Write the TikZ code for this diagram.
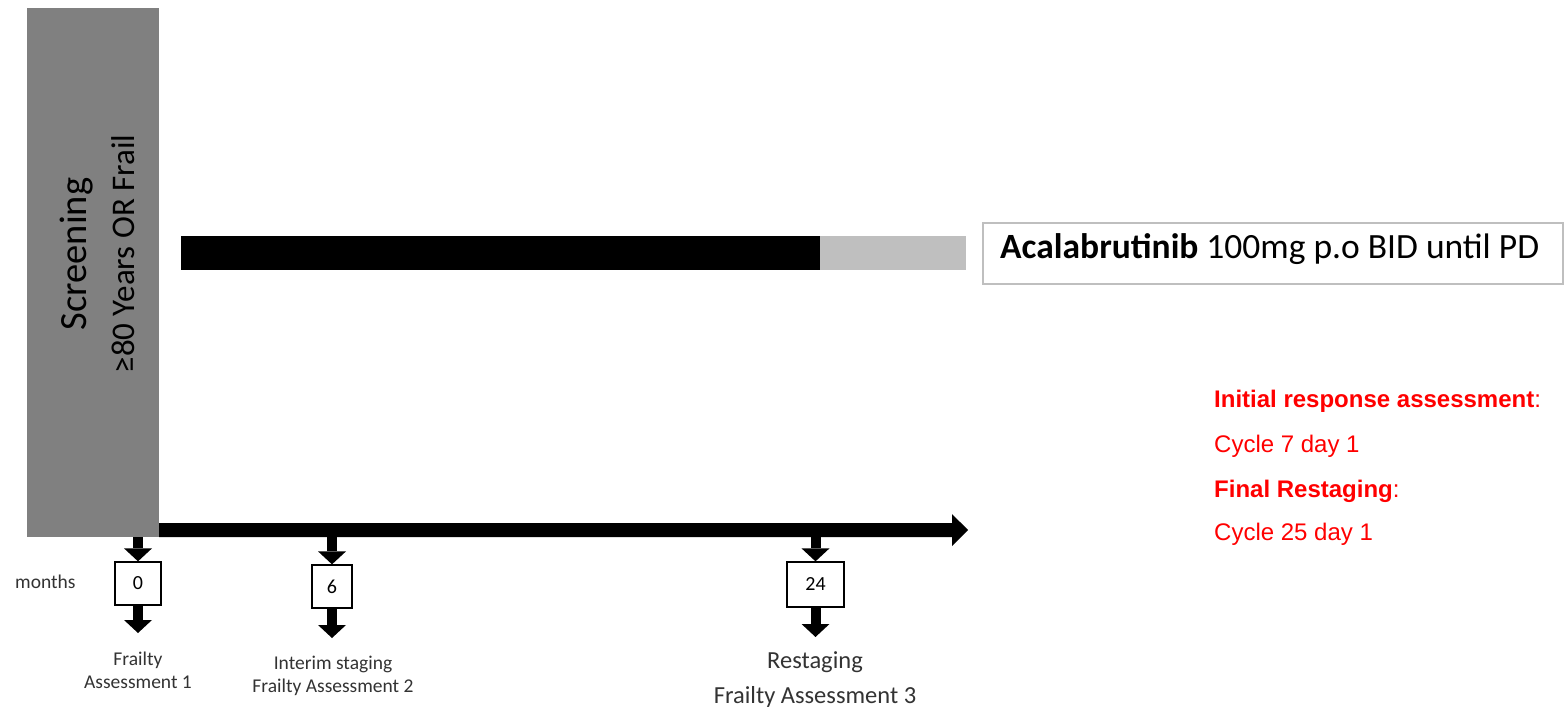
\documentclass[tikz,border=0pt]{standalone}
\usepackage{fontspec}
\setmainfont{Carlito}
\newfontfamily\arialfont{Liberation Sans}
\usetikzlibrary{arrows.meta}

\begin{document}
\begin{tikzpicture}[x=1pt, y=-1pt,
    screenbox/.style={fill=black!50, minimum width=132pt, minimum height=529pt, inner sep=0pt},
    monthbox/.style={draw, line width=1.3pt, inner sep=0pt, font=\fontsize{20}{22}\selectfont},
    downarrow/.style={line width=10pt, -{Triangle[width=28pt, length=13pt, line width=0pt]}},
    timeline/.style={line width=14pt, -{Triangle[width=32pt, length=16pt, line width=0pt]}},
    steplabel/.style={align=center, inner sep=0pt, text=black!80, font=\fontsize{19.5}{23}\selectfont},
    redline/.style={anchor=base west, inner sep=0pt, text=red, font=\arialfont\fontsize{24}{28}\selectfont}]
  \useasboundingbox (0,0) rectangle (1564,707);
  \fill[white] (0,0) rectangle (1564,707);

  % screening
  \node[screenbox] (screen) at (93,272.5) {};
  \node[rotate=90, align=center, inner sep=0pt, font=\fontsize{33}{40}\selectfont] (screentext) at (97,254)
    {{\fontsize{38.5}{40}\selectfont Screening}\\[8pt]≥80 Years OR Frail};

  % treatment
  \fill[black] (181,236) rectangle (820,270);
  \fill[black!25] (820,236) rectangle (966,270);
  \node[draw=black!25, line width=1.3pt, minimum width=580pt, minimum height=61pt, inner sep=0pt] (drug) at (1273,253.5) {};
  \node[anchor=base west, inner sep=0pt, font=\fontsize{35.5}{40}\selectfont] (druglabel) at (1000,258)
    {\textbf{Acalabrutinib} 100mg p.o BID until PD};

  % timeline
  \coordinate (tlend) at (968,530);
  \draw[timeline] ([yshift=7pt]screen.south east) -- (tlend);

  \coordinate (t0) at (138,537);
  \coordinate (t6) at (332,537);
  \coordinate (t24) at (815.5,537);
  \node[monthbox, minimum width=46pt, minimum height=43pt] (m0) at (138,583.5) {0};
  \node[monthbox, minimum width=40pt, minimum height=43pt] (m6) at (332,586.5) {6};
  \node[monthbox, minimum width=57pt, minimum height=45pt] (m24) at (815.5,584.5) {24};
  \coordinate (a0) at (138,633);
  \coordinate (a6) at (332,638);
  \coordinate (a24) at (815.5,637);
  \draw[downarrow] (t0) -- (m0);
  \draw[downarrow] (t6) -- (m6);
  \draw[downarrow] (t24) -- (m24);
  \draw[downarrow] (m0) -- (a0);
  \draw[downarrow] (m6) -- (a6);
  \draw[downarrow] (m24) -- (a24);

  \node[steplabel, anchor=base west] (months) at (15,588) {months};
  \node[steplabel, anchor=north] (fa1) at (138,652) {Frailty\\Assessment 1};
  \node[steplabel, anchor=north] (fa2) at (333,656) {Interim staging\\Frailty Assessment 2};
  \node[steplabel, anchor=north, font=\fontsize{24.5}{35}\selectfont] (fa3) at (815,651) {Restaging\\Frailty Assessment 3};

  % assessments
  \node[redline] (resp) at (1214,407) {\textbf{Initial response assessment}:};
  \node[redline] (respday) at (1214,452) {Cycle 7 day 1};
  \node[redline] (final) at (1214,497) {\textbf{Final Restaging}:};
  \node[redline] (finalday) at (1214,540) {Cycle 25 day 1};
\end{tikzpicture}
\end{document}
